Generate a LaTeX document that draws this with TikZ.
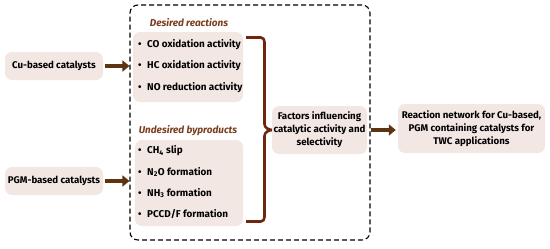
\documentclass[tikz,border=0pt]{standalone}
\usepackage{fontspec}
\setmainfont{Fira Sans}
\usetikzlibrary{arrows.meta}
\definecolor{boxfill}{RGB}{243,231,228}
\definecolor{arrowc}{RGB}{92,52,18}
\definecolor{bracec}{RGB}{110,38,14}
\definecolor{labelc}{RGB}{122,62,30}
\newcommand{\bul}{\makebox[9pt][l]{•}}
\tikzset{
  pbox/.style={rounded corners=7pt, fill=boxfill, inner sep=0pt, align=center, font=\fontsize{9.7}{13}\selectfont\bfseries},
  item/.style={anchor=west, inner sep=0pt, font=\fontsize{9.9}{11}\selectfont\bfseries},
  grouplabel/.style={inner sep=0pt, text=labelc, font=\fontsize{10}{11}\selectfont\bfseries\itshape},
  bigarrow/.style={draw=arrowc, line width=3.6pt, -{Triangle[length=7pt,width=11pt]}},
  frame/.style={draw=black, dashed, dash pattern=on 5pt off 3pt, line width=1.1pt, rounded corners=8pt, inner sep=0pt}
}
\begin{document}
\begin{tikzpicture}[x=1pt,y=-1pt]
\useasboundingbox (0,0) rectangle (550,249);
% frame
\node[frame, minimum width=240pt, minimum height=235pt] (frame) at (250,122.5) {};
% left boxes
\node[pbox, minimum width=98pt, minimum height=28pt] (cu) at (54,66) {Cu-based catalysts};
\node[pbox, minimum width=98pt, minimum height=28pt] (pgm) at (54,181) {PGM-based catalysts};
% group boxes
\node[grouplabel] (deslab) at (189,23) {Desired reactions};
\node[pbox, minimum width=110pt, minimum height=70pt] (des) at (188,67) {};
\node[grouplabel] (undlab) at (188,131) {Undesired byproducts};
\node[pbox, minimum width=108pt, minimum height=86pt] (und) at (189,183) {};
% items
\node[item] (d1) at (138,45) {\bul CO oxidation activity};
\node[item] (d2) at (138,66) {\bul HC oxidation activity};
\node[item] (d3) at (138,88) {\bul NO reduction activity};
\node[item] (u1) at (138,151) {\bul CH\textsubscript{4} slip};
\node[item] (u2) at (138,172) {\bul N\textsubscript{2}O formation};
\node[item] (u3) at (138,193) {\bul NH\textsubscript{3} formation};
\node[item] (u4) at (138,214) {\bul PCCD/F formation};
% brace
\draw[bracec, line width=2.6pt, line join=round]
  (246,37.5) -- (261,37.5) to[out=0,in=90] (264.5,42) -- (264.5,124)
  to[out=-90,in=180] (273,130) to[out=180,in=90] (264.5,136) -- (264.5,217)
  to[out=-90,in=0] (261,221.5) -- (246,221.5);
% right boxes
\node[pbox, minimum width=95pt, minimum height=48pt] (fac) at (319.5,130) {Factors influencing\\catalytic activity and\\selectivity};
\node[pbox, minimum width=147pt, minimum height=49pt] (net) at (471.5,128.5) {Reaction network for Cu-based,\\PGM containing catalysts for\\TWC applications};
% arrows
\draw[bigarrow] (cu.east) ++(2,0) -- (cu.east -| frame.west);
\draw[bigarrow] (pgm.east) ++(2,0) -- (pgm.east -| frame.west);
\draw[bigarrow] (fac.east) ++(4,0) -- ([xshift=-2pt]fac.east -| net.west);
\end{tikzpicture}
\end{document}
